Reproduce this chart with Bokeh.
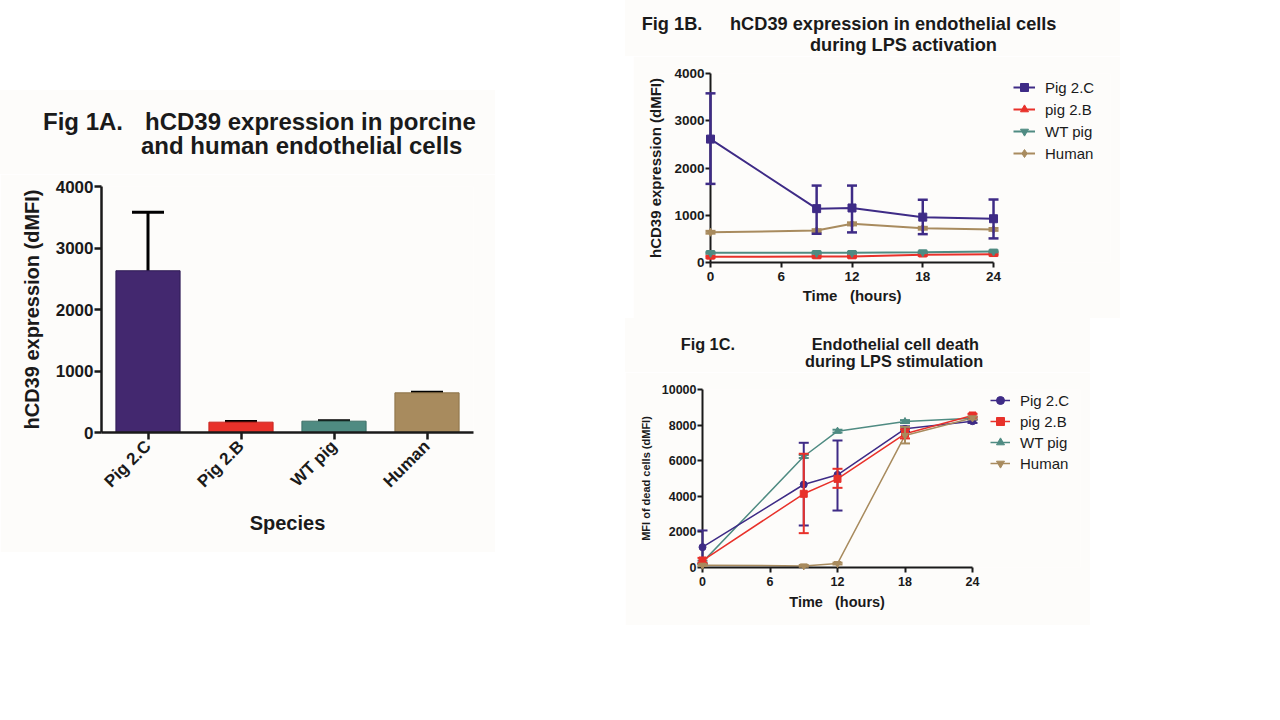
import math
from bokeh.plotting import figure
from bokeh.models import (Range1d, FixedTicker, Whisker, TeeHead, ColumnDataSource,
                          Legend, LegendItem, Spacer, Div)
from bokeh.layouts import row, column
from bokeh.embed import file_html
from bokeh.resources import INLINE

# ---------------- data ----------------
# Fig 1A (bars)
species = ["Pig 2.C", "Pig 2.B", "WT pig", "Human"]
a_mean = [2630, 168, 184, 645]
a_lower = [1660, 130, 145, 600]
a_upper = [3580, 178, 192, 655]
a_yticks = [0, 1000, 2000, 3000, 4000]

# Fig 1B (hCD39 during LPS activation)
time_b = [0, 9, 12, 18, 24]
b_pig2c = [2612, 1140, 1154, 960, 926]
b_pig2c_lo = [1664, 608, 637, 600, 510]
b_pig2c_hi = [3580, 1628, 1628, 1328, 1333]
b_pig2b = [120, 127, 127, 165, 175]
b_pig2b_lo = [100, 110, 110, 145, 155]
b_pig2b_hi = [140, 145, 145, 185, 195]
b_wt = [205, 205, 205, 219, 235]
b_wt_lo = [190, 190, 190, 205, 220]
b_wt_hi = [220, 220, 220, 233, 250]
b_human = [640, 676, 818, 726, 700]
b_human_lo = [615, 650, 790, 700, 675]
b_human_hi = [665, 700, 845, 750, 725]
b_yticks = [0, 1000, 2000, 3000, 4000]

# Fig 1C (cell death during LPS stimulation)
time_c = [0, 9, 12, 18, 24]
c_pig2c = [1142, 4663, 5206, 7790, 8220]
c_pig2c_lo = [204, 2360, 3200, 7650, 8120]
c_pig2c_hi = [2080, 7006, 7135, 7930, 8320]
c_pig2b = [393, 4140, 4980, 7510, 8540]
c_pig2b_lo = [250, 1930, 4475, 7250, 8450]
c_pig2b_hi = [540, 6390, 5545, 7770, 8630]
c_wt = [300, 6236, 7660, 8200, 8390]
c_wt_lo = [220, 6150, 7580, 8120, 8310]
c_wt_hi = [380, 6320, 7740, 8280, 8470]
c_human = [130, 90, 220, 7420, 8400]
c_human_lo = [80, 40, 170, 6970, 8320]
c_human_hi = [180, 140, 270, 7900, 8480]
c_yticks = [0, 2000, 4000, 6000, 8000, 10000]

x_ticks = [0, 6, 12, 18, 24]
legend_names = ["Pig 2.C", "pig 2.B", "WT pig", "Human"]

# ---------------- style ----------------
FONT = "Liberation Sans"
INK = "#1a1a1a"
BG = "#FDFCFA"
PURPLE_BAR = "#43286F"
RED = "#E8312A"
TEAL = "#4F8B82"
TAN = "#A88B5E"
PURPLE_LINE = "#3E2B86"
NB = "\u00a0"


def style_axis(ax, tick_size, label_size, line_w, tick_out):
    ax.axis_line_color = INK
    ax.axis_line_width = line_w
    ax.major_tick_line_color = INK
    ax.major_tick_line_width = line_w
    ax.major_tick_in = 0
    ax.major_tick_out = tick_out
    ax.minor_tick_line_color = None
    ax.major_label_text_font = FONT
    ax.major_label_text_font_style = "bold"
    ax.major_label_text_font_size = tick_size
    ax.major_label_text_color = INK
    ax.axis_label_text_font = FONT
    ax.axis_label_text_font_style = "bold"
    ax.axis_label_text_font_size = label_size
    ax.axis_label_text_color = INK


def title_div(width, height, parts):
    spans = "".join(
        f'<span style="position:absolute;left:{x}px;top:{t}px;font-family:\'{FONT}\',Arial,sans-serif;'
        f'font-weight:bold;font-size:{s}px;line-height:1;white-space:nowrap;color:{INK};">{txt}</span>'
        for (x, t, txt, s) in parts)
    html = (f'<div style="position:relative;width:{width}px;height:{height}px;'
            f'background-color:{BG};overflow:visible;">{spans}</div>')
    return Div(text=html, width=width, height=height, margin=0,
               styles={"background-color": BG})


# ---------------- Fig 1A ----------------
pa = figure(width=495, height=378, x_range=species, y_range=Range1d(0, 4000),
            output_backend="svg", toolbar_location=None,
            min_border_left=101, min_border_right=22, min_border_top=12, min_border_bottom=120,
            background_fill_color=BG, border_fill_color=BG, outline_line_color=None)
src_a = ColumnDataSource(dict(x=species, top=a_mean, lo=a_lower, hi=a_upper,
                              color=[PURPLE_BAR, RED, TEAL, TAN],
                              edge=["#2F1B55", "#C8251F", "#3D6F67", "#8C7248"]))
pa.vbar(x="x", top="top", width=0.69, source=src_a, fill_color="color", line_color="edge", line_width=1)
pa.add_layout(Whisker(source=src_a, base="x", upper="hi", lower="lo", dimension="height",
                      line_color="black", line_width=3,
                      upper_head=TeeHead(size=32, line_color="black", line_width=3),
                      lower_head=TeeHead(size=32, line_color="black", line_width=3)))
pa.yaxis.ticker = FixedTicker(ticks=a_yticks, minor_ticks=[])
pa.yaxis.axis_label = "hCD39 expression (dMFI)"
pa.xaxis.axis_label = "Species"
style_axis(pa.xaxis[0], "17px", "20px", 2.5, 7)
style_axis(pa.yaxis[0], "17px", "20px", 2.5, 7)
pa.xgrid.visible = False
pa.ygrid.visible = False
pa.yaxis.major_label_standoff = 1
pa.yaxis.axis_label_standoff = 10
pa.xaxis.major_label_orientation = math.pi / 4
pa.xaxis.major_label_standoff = 4
pa.xaxis.axis_label_standoff = 11

div_a = title_div(495, 84, [(43, 20.2, "Fig 1A.", 24),
                            (145, 20.2, "hCD39 expression in porcine", 24),
                            (141, 44.4, "and human endothelial cells", 24)])


# ---------------- line panels ----------------
def line_panel(width, height, mb, xr, yr, yticks, ylabel, xlabel, tick_size,
               ylabel_size, xlabel_size, series, markers, lw, msize, leg_loc, leg_spacing,
               glyph_w, draw_order, ylab_standoff, xlab_standoff, cap):
    p = figure(width=width, height=height, x_range=Range1d(*xr), y_range=Range1d(*yr),
               output_backend="svg", toolbar_location=None,
               min_border_left=mb[0], min_border_right=mb[1], min_border_top=mb[2],
               min_border_bottom=mb[3],
               background_fill_color=BG, border_fill_color=BG, outline_line_color=None)
    p.xgrid.visible = False
    p.ygrid.visible = False
    xa, ya = p.xaxis[0], p.yaxis[0]
    xa.ticker = FixedTicker(ticks=x_ticks, minor_ticks=[])
    ya.ticker = FixedTicker(ticks=yticks, minor_ticks=[])
    xa.bounds = (0, 24)
    xa.axis_label = xlabel
    ya.axis_label = ylabel
    style_axis(xa, tick_size, xlabel_size, 2, 5)
    style_axis(ya, tick_size, ylabel_size, 2, 5)
    ya.major_label_standoff = 1
    xa.major_label_standoff = 4
    ya.axis_label_standoff = ylab_standoff
    xa.axis_label_standoff = xlab_standoff

    items = {}
    for idx in draw_order:
        name, xs, ys, lo, hi, color = series[idx]
        src = ColumnDataSource(dict(x=xs, y=ys, lo=lo, hi=hi))
        lr = p.line("x", "y", source=src, line_color=color, line_width=lw)
        p.segment(x0="x", y0="lo", x1="x", y1="hi", source=src, line_color=color,
                  line_width=lw + 0.5, level="overlay")
        p.scatter("x", "lo", source=src, marker="dash", size=cap, line_color=color,
                  line_width=lw + 0.5, level="overlay")
        p.scatter("x", "hi", source=src, marker="dash", size=cap, line_color=color,
                  line_width=lw + 0.5, level="overlay")
        sr = p.scatter("x", "y", source=src, marker=markers[idx], size=msize,
                       fill_color=color, line_color=color, level="overlay")
        items[idx] = LegendItem(label=name, renderers=[lr, sr])
    legend = Legend(items=[items[i] for i in range(len(series))], location=leg_loc,
                    border_line_color=None, background_fill_alpha=0, padding=0,
                    margin=0, spacing=leg_spacing, label_height=20, glyph_height=20,
                    glyph_width=glyph_w, label_standoff=10, label_text_font=FONT,
                    label_text_font_size="15px", label_text_color=INK)
    p.add_layout(legend)
    return p


series_b = [
    (legend_names[0], time_b, b_pig2c, b_pig2c_lo, b_pig2c_hi, PURPLE_LINE),
    (legend_names[1], time_b, b_pig2b, b_pig2b_lo, b_pig2b_hi, RED),
    (legend_names[2], time_b, b_wt, b_wt_lo, b_wt_hi, TEAL),
    (legend_names[3], time_b, b_human, b_human_lo, b_human_hi, TAN),
]
# frame: x 710..1110 (0..24 h spans 283 px), y 73..262
xlabel_b = "Time" + NB * 3 + "(hours)" + NB * 28
pb = line_panel(487, 262, (77, 10, 17, 56), (0, 33.92), (0, 4000), b_yticks,
                "hCD39 expression (dMFI)", xlabel_b, "13.5px", "15px", "15px", series_b,
                ["square", "triangle", "inverted_triangle", "diamond"], 2, 8, (303, 99), 2, 22,
                [1, 2, 3, 0], 7, 3, 10)
div_b = title_div(495, 56, [(16.7, 15.3, "Fig 1B.", 18.2),
                            (105, 15.3, "hCD39 expression in endothelial cells", 18.2),
                            (185, 36.3, "during LPS activation", 18.2)])

series_c = [
    (legend_names[0], time_c, c_pig2c, c_pig2c_lo, c_pig2c_hi, PURPLE_LINE),
    (legend_names[1], time_c, c_pig2b, c_pig2b_lo, c_pig2b_hi, RED),
    (legend_names[2], time_c, c_wt, c_wt_lo, c_wt_hi, TEAL),
    (legend_names[3], time_c, c_human, c_human_lo, c_human_hi, TAN),
]
# frame: x 702..1080 (0..24 h spans 270 px), y 389..567
xlabel_c = "Time" + NB * 3 + "(hours)" + NB * 27
pc = line_panel(465, 253, (77, 10, 17, 58), (0, 33.6), (0, 10000), c_yticks,
                "MFI of dead cells (dMFI)", xlabel_c, "12.5px", "11px", "14.5px", series_c,
                ["circle", "square", "triangle", "inverted_triangle"], 1.5, 7, (288, 94), 1, 20,
                [2, 0, 1, 3], 7, 5, 10)
div_c = title_div(465, 54, [(55.7, 18.2, "Fig 1C.", 16.3),
                            (186.7, 18.2, "Endothelial cell death", 16.3),
                            (180, 34.9, "during LPS stimulation", 16.3)])

layout = row(column(Spacer(height=90), div_a, pa), Spacer(width=130),
             column(div_b, row(Spacer(width=8), pb), div_c, pc))
open("out.html", "w").write(file_html(layout, INLINE))
